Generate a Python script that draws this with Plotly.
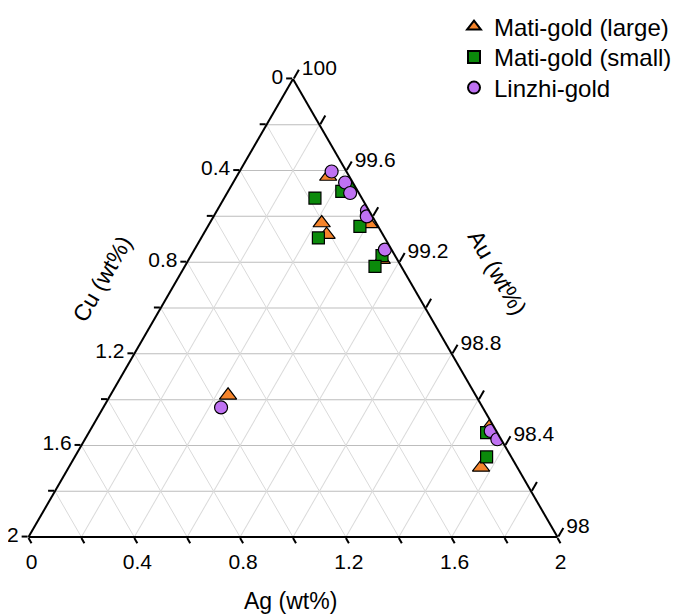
import plotly.graph_objects as go

# ---- data (wt%) ----
large_au = [99.574, 99.367, 99.211, 99.371, 99.320, 98.484, 98.304, 98.619]
large_cu = [0.080, 0.028, 0.059, 0.206, 0.213, 0.013, 0.137, 0.936]
large_ag = [0.346, 0.605, 0.730, 0.423, 0.467, 1.503, 1.559, 0.445]

small_au = [99.538, 99.509, 99.480, 99.356, 99.229, 99.182, 99.306, 98.456, 98.350]
small_cu = [0.010, 0.061, 0.177, 0.069, 0.049, 0.099, 0.251, 0.040, 0.093]
small_ag = [0.452, 0.430, 0.343, 0.575, 0.722, 0.719, 0.443, 1.504, 1.557]

linzhi_au = [99.596, 99.548, 99.502, 99.425, 99.400, 99.255, 98.463, 98.427, 98.566]
linzhi_cu = [0.056, 0.029, 0.033, 0.008, 0.021, 0.025, 0.021, 0.014, 0.989]
linzhi_ag = [0.348, 0.423, 0.465, 0.567, 0.579, 0.720, 1.516, 1.559, 0.445]

# tick positions along each axis and the labels shown at them
au_ticks = [98.0, 98.2, 98.4, 98.6, 98.8, 99.0, 99.2, 99.4, 99.6, 99.8, 100.0]
au_edge_labels = ["2", "", "1.6", "", "1.2", "", "0.8", "", "0.4", "", "0"]      # Cu along left edge
cu_ticks = [0.0, 0.2, 0.4, 0.6, 0.8, 1.0, 1.2, 1.4, 1.6, 1.8, 2.0]
cu_edge_labels = ["2", "", "1.6", "", "1.2", "", "0.8", "", "0.4", "", "0"]      # Ag along bottom edge
ag_ticks = [0.0, 0.2, 0.4, 0.6, 0.8, 1.0, 1.2, 1.4, 1.6, 1.8, 2.0]
ag_edge_labels = ["100", "", "99.6", "", "99.2", "", "98.8", "", "98.4", "", "98"]  # Au along right edge

FONT = "Liberation Sans, Arial, sans-serif"
W, H = 667, 606  # page body keeps an 8px margin inside the 683x614 window


def px(x):
    return (x - 8) / W


def py(y):
    return 1 - (y - 8) / H


fig = go.Figure()
fig.add_trace(go.Scatterternary(
    a=large_au, b=large_cu, c=large_ag, mode="markers", name="Mati-gold (large)", legend="legend",
    marker=dict(symbol="triangle-up", size=15, color="#F5842B", line=dict(color="black", width=1.2))))
fig.add_trace(go.Scatterternary(
    a=small_au, b=small_cu, c=small_ag, mode="markers", name="Mati-gold (small)", legend="legend2",
    marker=dict(symbol="square", size=12, color="#0B8A0B", line=dict(color="black", width=1.2))))
fig.add_trace(go.Scatterternary(
    a=linzhi_au, b=linzhi_cu, c=linzhi_ag, mode="markers", name="Linzhi-gold", legend="legend3",
    marker=dict(symbol="circle", size=13, color="#BF72F2", line=dict(color="black", width=1.2))))


def axis_style(gridcolor, ticklen=6):
    return dict(
        linecolor="black", linewidth=2, showline=True,
        gridcolor=gridcolor, gridwidth=1, showgrid=True,
        ticks="outside", ticklen=ticklen, tickwidth=1.5, tickcolor="black",
        tickfont=dict(family=FONT, size=21, color="black"),
        tickmode="array", title=dict(text=""),
    )


def legend_at(ypix):
    return dict(
        x=px(454), y=py(ypix), xanchor="left", yanchor="middle",
        bgcolor="rgba(0,0,0,0)", font=dict(family=FONT, size=24, color="black"),
        itemsizing="constant", visible=True,
    )


fig.update_layout(
    width=W, height=H,
    margin=dict(l=0, r=0, t=0, b=0, autoexpand=False),
    paper_bgcolor="white",
    font=dict(family=FONT, color="black"),
    showlegend=True,
    ternary=dict(
        sum=100,
        domain=dict(x=[px(28.5), px(557.5)], y=[py(538), py(78)]),
        bgcolor="white",
        aaxis=dict(min=98, tickvals=au_ticks, ticktext=au_edge_labels, **axis_style("#bdbdbd", 6)),
        baxis=dict(min=0, tickvals=cu_ticks, ticktext=cu_edge_labels, **axis_style("#dadada", 6)),
        caxis=dict(min=0, tickvals=ag_ticks, ticktext=ag_edge_labels, **axis_style("#dadada", 10)),
    ),
    legend=legend_at(27),
    legend2=legend_at(57.5),
    legend3=legend_at(88),
    annotations=[
        dict(text="Cu (wt%)", x=px(102), y=py(279), xref="paper", yref="paper",
             xanchor="center", yanchor="middle",
             showarrow=False, textangle=-60, font=dict(family=FONT, size=23)),
        dict(text="Au (wt%)", x=px(497), y=py(272), xref="paper", yref="paper",
             xanchor="center", yanchor="middle",
             showarrow=False, textangle=60, font=dict(family=FONT, size=23)),
        dict(text="Ag (wt%)", x=px(290), y=py(601), xref="paper", yref="paper",
             xanchor="center", yanchor="middle",
             showarrow=False, font=dict(family=FONT, size=23)),
    ],
)

fig.write_html("out.html")
